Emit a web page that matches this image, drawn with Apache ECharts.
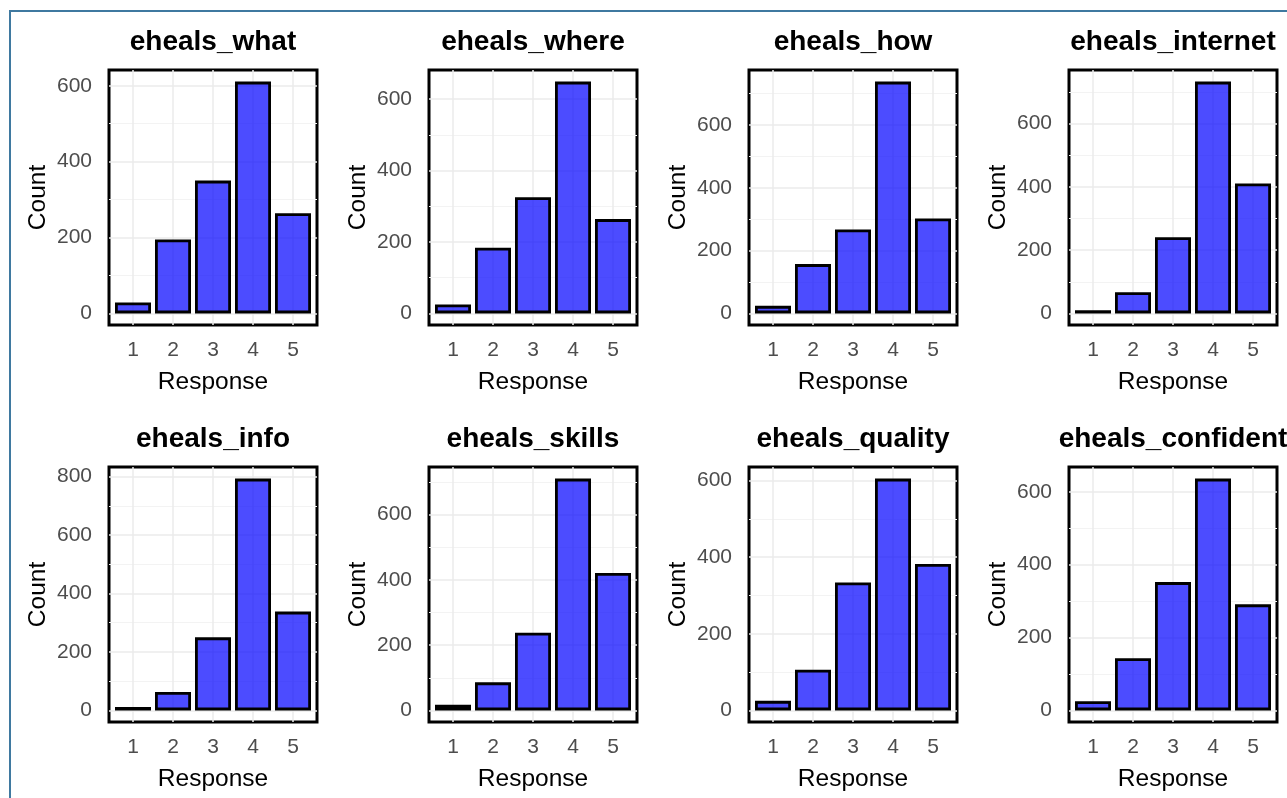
<!DOCTYPE html>
<html>
<head>
<meta charset="utf-8">
<title>eHEALS responses</title>
<script src="https://cdn.jsdelivr.net/npm/echarts@6/dist/echarts.min.js"></script>
<style>
  html, body { margin: 0; padding: 0; background: #fff; }
  #chart { width: 1287px; height: 798px; }
</style>
</head>
<body>
<div id="chart"></div>
<script>
// response categories and y tick values
const responses = [1, 2, 3, 4, 5]
const majorTicks = [0, 200, 400, 600, 800]
const minorTicks = [100, 300, 500, 700]

// item names, in facet order
const items = ['eheals_what', 'eheals_where', 'eheals_how', 'eheals_internet',
  'eheals_info', 'eheals_skills', 'eheals_quality', 'eheals_confident']

// counts per response
const ehealsWhat = [29, 195, 350, 611, 264]
const ehealsWhere = [25, 184, 325, 649, 264]
const ehealsHow = [24, 157, 267, 738, 302]
const ehealsInternet = [10, 67, 241, 733, 411]
const ehealsInfo = [12, 63, 250, 793, 338]
const ehealsSkills = [17, 86, 238, 710, 421]
const ehealsQuality = [25, 106, 334, 605, 382]
const ehealsConfident = [25, 143, 352, 636, 291]

const counts = [ehealsWhat, ehealsWhere, ehealsHow, ehealsInternet,
  ehealsInfo, ehealsSkills, ehealsQuality, ehealsConfident]

const FONT = '"Liberation Sans", Arial, sans-serif'
const colLeft = [109, 429, 749, 1069]
const rowTop = [70, 467]
const gridW = 208
const gridH = 255

const grids = [], xAxes = [], yAxes = [], series = [], titles = []

items.forEach((name, i) => {
  const left = colLeft[i % 4]
  const top = rowTop[Math.floor(i / 4)]
  const vals = counts[i]
  const maxV = Math.max(...vals)

  grids.push({
    left: left, top: top, width: gridW, height: gridH,
    show: true, borderColor: '#000', borderWidth: 3, backgroundColor: 'transparent'
  })

  titles.push({
    text: name,
    left: left + gridW / 2,
    top: top - 42,
    padding: 0,
    textAlign: 'center',
    textStyle: { fontFamily: FONT, fontSize: 28, fontWeight: 'bold', color: '#000' }
  })

  // discrete x scale: 0.6 padding on each side like ggplot
  xAxes.push({
    type: 'value', gridIndex: i, min: 0.4, max: 5.6,
    name: 'Response', nameLocation: 'middle', nameGap: 45,
    nameTextStyle: { fontFamily: FONT, fontSize: 24.5, color: '#000' },
    axisLine: { show: false },
    axisTick: { show: false, customValues: responses },
    axisLabel: { customValues: responses, margin: 15, color: '#4d4d4d', fontFamily: FONT, fontSize: 21 },
    splitLine: { show: true, lineStyle: { color: '#ebebeb', width: 1.5 } }
  })

  // 5% expansion above and below, as in ggplot
  const ext = { min: -0.05 * maxV, max: 1.05 * maxV }
  yAxes.push({
    type: 'value', gridIndex: i, min: ext.min, max: ext.max,
    name: 'Count', nameLocation: 'middle', nameGap: 58, nameRotate: 90,
    nameTextStyle: { fontFamily: FONT, fontSize: 24.5, color: '#000' },
    axisLine: { show: false },
    axisTick: { show: false, customValues: majorTicks },
    axisLabel: { customValues: majorTicks, margin: 17, color: '#4d4d4d', fontFamily: FONT, fontSize: 21 },
    splitLine: { show: true, lineStyle: { color: '#ebebeb', width: 1.5 } }
  })
  yAxes.push({
    type: 'value', gridIndex: i, min: ext.min, max: ext.max, position: 'right',
    axisLine: { show: false },
    axisTick: { show: false, customValues: minorTicks },
    axisLabel: { show: false },
    splitLine: { show: true, lineStyle: { color: '#f3f3f3', width: 1 } }
  })

  series.push({
    type: 'bar',
    xAxisIndex: i,
    yAxisIndex: i * 2,
    barWidth: '90%',
    data: responses.map((r, k) => [r, vals[k]]),
    itemStyle: { color: 'rgba(0,0,255,0.7)', borderColor: '#000', borderWidth: 2.8 },
    emphasis: { disabled: true },
    z: 3
  })
})

const chart = echarts.init(document.getElementById('chart'))
chart.setOption({
  animation: false,
  backgroundColor: '#fff',
  title: titles,
  grid: grids,
  xAxis: xAxes,
  yAxis: yAxes,
  series: series,
  graphic: [{
    type: 'rect',
    shape: { x: 10, y: 11, width: 1400, height: 900 },
    style: { fill: 'none', stroke: '#3f79a0', lineWidth: 2 },
    silent: true
  }]
})
</script>
</body>
</html>
